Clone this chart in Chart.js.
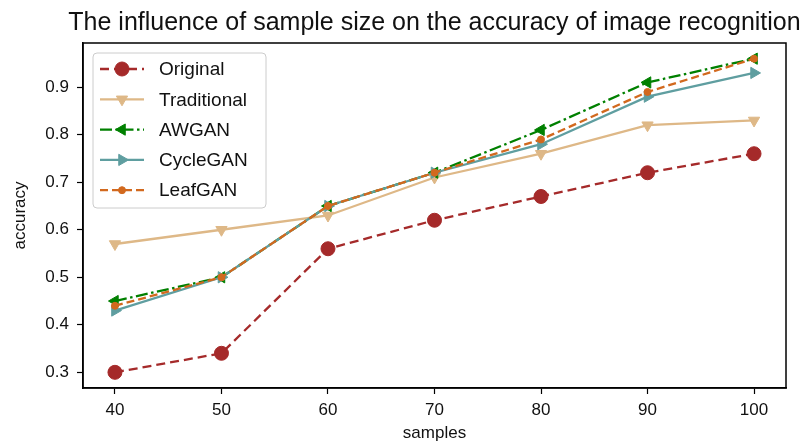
<!DOCTYPE html>
<html>
<head>
<meta charset="utf-8">
<script src="https://cdn.jsdelivr.net/npm/chart.js@4/dist/chart.umd.min.js"></script>
<style>
  html, body { margin: 0; padding: 0; background: #fff; }
  #wrap { width: 805px; height: 444px; }
</style>
</head>
<body>
<div id="wrap"><canvas id="chart" width="805" height="444"></canvas></div>
<script>
// sample sizes on the x axis
const samples = [40, 50, 60, 70, 80, 90, 100];
const yTicks = [0.3, 0.4, 0.5, 0.6, 0.7, 0.8, 0.9];

// accuracy per method
const original    = [0.30, 0.34, 0.56, 0.62, 0.67, 0.72, 0.76];
const traditional = [0.57, 0.60, 0.63, 0.71, 0.76, 0.82, 0.83];
const awgan       = [0.45, 0.50, 0.65, 0.72, 0.81, 0.91, 0.96];
const cycleGan    = [0.43, 0.50, 0.65, 0.72, 0.78, 0.88, 0.93];
const leafGan     = [0.44, 0.50, 0.65, 0.72, 0.79, 0.89, 0.96];

const chartTitle = 'The influence of sample size on the accuracy of image recognition';

const FONT = '"Liberation Sans", Arial, Helvetica, sans-serif';

const toPoints = vals => vals.map((v, i) => ({ x: samples[i], y: v }));

function series(label, vals, color, dash, style, rotation, radius, order) {
    return {
        label: label,
        data: toPoints(vals),
        borderColor: color,
        backgroundColor: color,
        borderWidth: 2.3,
        borderDash: dash,
        pointStyle: style,
        pointRotation: rotation,
        pointRadius: radius,
        pointHoverRadius: radius,
        pointBackgroundColor: color,
        pointBorderColor: color,
        pointBorderWidth: 1,
        tension: 0,
        order: order
    };
}

const datasets = [
    series('Original', original, '#a52a2a', [9, 5], 'circle', 0, 7, 5),
    series('Traditional', traditional, '#deb887', [], 'triangle', 180, 6.5, 4),
    series('AWGAN', awgan, '#008000', [12, 3.5, 2.5, 3.5], 'triangle', -90, 6.5, 3),
    series('CycleGAN', cycleGan, '#5f9ea0', [], 'triangle', 90, 6.5, 2),
    series('LeafGAN', leafGan, '#d2691e', [8, 4], 'circle', 0, 3.5, 1)
];

// frame around the plot area, plus the title centred over it
// (drawn by hand so the long title is not squeezed to the plot width)
const frame = {
    id: 'frame',
    afterDatasetsDraw(chart) {
        const { ctx, chartArea: a } = chart;
        ctx.save();
        ctx.strokeStyle = '#000';
        ctx.lineWidth = 1.5;
        ctx.strokeRect(a.left, a.top, a.right - a.left, a.bottom - a.top);

        ctx.fillStyle = '#111';
        ctx.font = '25px ' + FONT;
        ctx.textAlign = 'center';
        ctx.textBaseline = 'alphabetic';
        ctx.fillText(chartTitle, (a.left + a.right) / 2, 30);
        ctx.restore();
    }
};

// legend box in the upper left corner of the axes
const boxLegend = {
    id: 'boxLegend',
    afterDraw(chart) {
        const ctx = chart.ctx;
        const x0 = 93, y0 = 53, w = 173, h = 155, rowH = 30.3;
        ctx.save();
        ctx.beginPath();
        ctx.roundRect(x0, y0, w, h, 4);
        ctx.fillStyle = 'rgba(255,255,255,0.85)';
        ctx.fill();
        ctx.strokeStyle = '#cccccc';
        ctx.lineWidth = 1;
        ctx.stroke();

        chart.data.datasets.forEach((ds, i) => {
            const y = 69 + i * rowH;
            ctx.beginPath();
            ctx.setLineDash(ds.borderDash);
            ctx.strokeStyle = ds.borderColor;
            ctx.lineWidth = ds.borderWidth;
            ctx.moveTo(100, y);
            ctx.lineTo(144, y);
            ctx.stroke();
            ctx.setLineDash([]);
            ctx.fillStyle = ds.pointBackgroundColor;
            ctx.strokeStyle = ds.pointBorderColor;
            ctx.lineWidth = 1;
            Chart.helpers.drawPoint(ctx, {
                pointStyle: ds.pointStyle,
                rotation: ds.pointRotation,
                radius: ds.pointRadius,
                borderWidth: 1
            }, 122, y);

            ctx.fillStyle = '#111';
            ctx.font = '19px ' + FONT;
            ctx.textBaseline = 'middle';
            ctx.textAlign = 'left';
            ctx.fillText(ds.label, 159, y + 1);
        });
        ctx.restore();
    }
};

new Chart(document.getElementById('chart'), {
    type: 'line',
    data: { datasets: datasets },
    plugins: [frame, boxLegend],
    options: {
        responsive: false,
        animation: false,
        events: [],
        layout: { padding: { left: 0, right: 19, top: 43, bottom: 0 } },
        plugins: {
            legend: { display: false },
            tooltip: { enabled: false },
            title: { display: false }
        },
        scales: {
            x: {
                type: 'linear',
                min: 37,
                max: 103,
                afterBuildTicks: s => { s.ticks = samples.map(v => ({ value: v })); },
                afterFit: s => { s.height = 56; },
                grid: { drawOnChartArea: false, drawTicks: true, tickLength: 6, tickColor: '#000', tickWidth: 1.2 },
                border: { display: true, color: '#000', width: 1.5 },
                ticks: { color: '#111', font: { family: FONT, size: 17 }, padding: 6, maxRotation: 0 },
                title: {
                    display: true,
                    text: 'samples',
                    color: '#111',
                    font: { family: FONT, size: 17 },
                    padding: { top: 4, bottom: 0 }
                }
            },
            y: {
                type: 'linear',
                min: 0.267,
                max: 0.993,
                afterBuildTicks: s => { s.ticks = yTicks.map(v => ({ value: v })); },
                afterFit: s => { s.width = 83; },
                grid: { drawOnChartArea: false, drawTicks: true, tickLength: 6, tickColor: '#000', tickWidth: 1.2 },
                border: { display: true, color: '#000', width: 1.5 },
                ticks: {
                    color: '#111',
                    font: { family: FONT, size: 17 },
                    padding: 8,
                    callback: v => v.toFixed(1)
                },
                title: {
                    display: true,
                    text: 'accuracy',
                    color: '#111',
                    font: { family: FONT, size: 17 },
                    padding: { top: 10, bottom: 0 }
                }
            }
        }
    }
});
</script>
</body>
</html>
